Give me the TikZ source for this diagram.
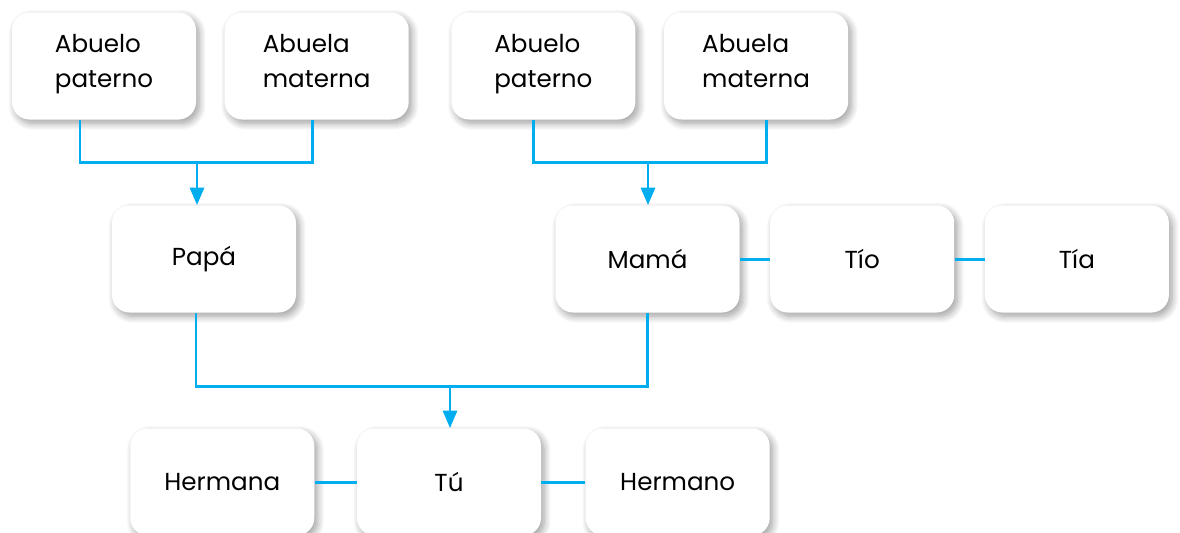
\documentclass[tikz,border=0pt]{standalone}
\usepackage{fontspec}
\setmainfont{Poppins}
\usetikzlibrary{positioning, arrows.meta, shadows.blur, calc}
\definecolor{linkblue}{RGB}{0,174,239}

\begin{document}
\begin{tikzpicture}[
    person/.style={rectangle, fill=white, rounded corners=10pt, minimum width=3.68cm, minimum height=2.14cm, inner sep=0pt, align=left, font=\fontsize{14}{20}\selectfont,
        blur shadow={shadow xshift=1.8pt, shadow yshift=-2.2pt, shadow blur radius=4pt, shadow blur steps=10, shadow opacity=38}},
    link/.style={draw=linkblue, line width=1.7pt},
    arr/.style={link, -{Triangle[width=8pt, length=10pt]}}
]
    \useasboundingbox (0,0) rectangle (23.6,-10.64);

    % grandparents
    \node[person] (ap1) at (2.08,-1.32) {Abuelo\\paterno\strut};
    \node[person] (am1) [right=0.56cm of ap1] {Abuela\\materna\strut};
    \node[person] (ap2) [right=0.84cm of am1] {Abuelo\\paterno\strut};
    \node[person] (am2) [right=0.56cm of ap2] {Abuela\\materna\strut};

    % parents and uncles
    \node[person] (papa) at (4.08,-5.18) {Pap\'a};
    \node[person] (mama) at (12.95,-5.18) {Mam\'a};
    \node[person] (tio) [right=0.6cm of mama] {T\'io};
    \node[person] (tia) [right=0.6cm of tio] {T\'ia};

    % children
    \node[person] (tu) at (8.98,-9.64) {T\'u};
    \node[person] (hna) [left=0.84cm of tu] {Hermana};
    \node[person] (hno) [right=0.88cm of tu] {Hermano};

    \coordinate (jp) at (3.94,-3.24);
    \coordinate (jm) at (12.96,-3.24);
    \coordinate (jt) at (9.0,-7.72);

    \draw[link] ([xshift=-0.48cm]ap1.south) |- (jp) -| ([xshift=-0.08cm]am1.south);
    \draw[arr] (jp) -- (jp |- papa.north);
    \draw[link] ([xshift=-0.2cm]ap2.south) |- (jm) -| ([xshift=0.2cm]am2.south);
    \draw[arr] (jm) -- (jm |- mama.north);
    \draw[link] ([xshift=-0.16cm]papa.south) |- (jt) -| (mama.south);
    \draw[arr] (jt) -- (jt |- tu.north);
    \draw[link] (mama) -- (tio);
    \draw[link] (tio) -- (tia);
    \draw[link] (hna) -- (tu);
    \draw[link] (tu) -- (hno);
\end{tikzpicture}
\end{document}
